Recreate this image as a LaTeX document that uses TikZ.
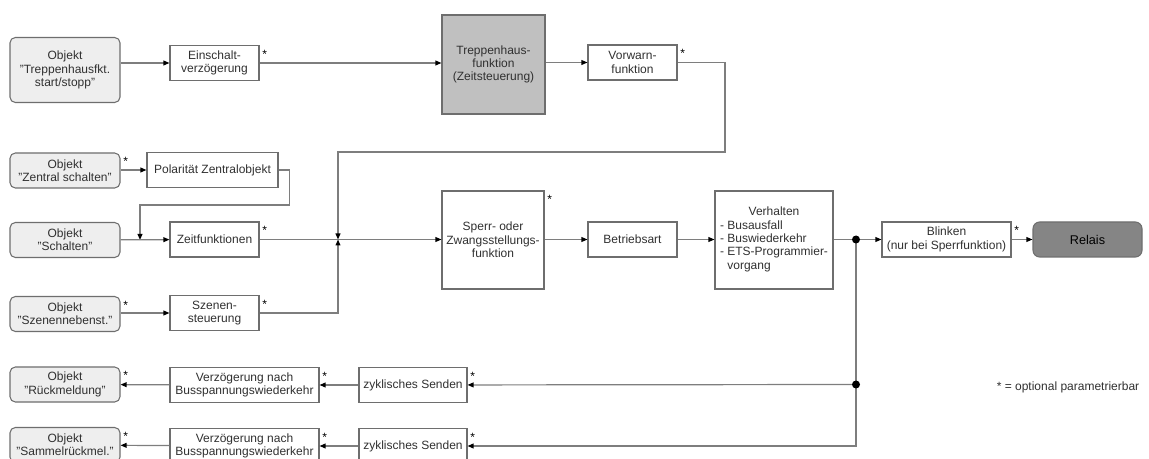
\documentclass[tikz,border=0pt]{standalone}
\usepackage{fontspec}
\setmainfont{Liberation Sans}
\usepackage{tikz}
\usetikzlibrary{arrows.meta, calc}
\definecolor{LineGrey}{HTML}{7E7E7E}
\definecolor{BoxGrey}{HTML}{6E6E6E}
\definecolor{ObjFill}{HTML}{EEEEEE}
\definecolor{FuncFill}{HTML}{C0C0C0}
\definecolor{RelaisFill}{HTML}{858585}
\definecolor{TextGrey}{HTML}{303030}

\begin{document}
\begin{tikzpicture}[x=0.75pt, y=-0.75pt,
  font=\fontsize{9}{10}\selectfont, text=TextGrey,
  box/.style={draw=BoxGrey, line width=0.8pt, align=center, inner sep=2pt,
    minimum width=66.75pt, minimum height=26.25pt},
  obj/.style={box, fill=ObjFill, rounded corners=4pt, minimum width=82.5pt},
  optmark/.style={label={[anchor=north west, inner sep=1pt, xshift=1pt, yshift=-2.5pt, text=black]north east:*}},
  conn/.style={draw=LineGrey, line width=0.9pt},
  arr/.style={conn, -{Triangle[length=4.5pt, width=3.6pt, color=black]}}]
\useasboundingbox (0,0) rectangle (1149,459);
\clip (0,0) rectangle (1149,459);

% --- objects ---
\node[obj, minimum height=48.75pt] (trobj) at (65,70) {Objekt\\"Treppenhausfkt.\\start/stopp"};
\node[obj, optmark] (zentral) at (65,170.5) {Objekt\\"Zentral schalten"};
\node[obj] (schalten) at (65,240) {Objekt\\"Schalten"};
\node[obj, optmark] (szobj) at (65,314) {Objekt\\"Szenennebenst."};
\node[obj, optmark] (rueck) at (65,384.5) {Objekt\\"Rückmeldung"};
\node[obj, optmark] (sammel) at (65,445) {Objekt\\"Sammelrückmel."};

% --- function blocks ---
\node[box, optmark] (einsch) at (214.5,63) {Einschalt-\\verzögerung};
\node[box, fill=FuncFill, minimum width=77.25pt, minimum height=74.25pt] (trfunc) at (493.5,64.5) {Treppenhaus-\\funktion\\(Zeitsteuerung)};
\node[box, optmark] (vorwarn) at (632.5,62.5) {Vorwarn-\\funktion};
\node[box, minimum width=98.25pt] (polar) at (212.5,170) {Polarität Zentralobjekt};
\node[box, optmark] (zeit) at (214.5,239.5) {Zeitfunktionen};
\node[box, optmark] (szenen) at (214.5,313) {Szenen-\\steuerung};
\node[box, optmark, minimum width=76.5pt, minimum height=73.5pt] (sperr) at (493,240) {Sperr- oder\\Zwangsstellungs-\\funktion};
\node[box] (betrieb) at (632.5,239.5) {Betriebsart};
\node[box, minimum width=88.5pt, minimum height=73.5pt] (verhalten) at (774,240)
  {\begin{tabular}{@{}l@{}}\multicolumn{1}{@{}c@{}}{Verhalten}\\- Busausfall\\- Buswiederkehr\\- ETS-Programmier-\\\phantom{- }vorgang\end{tabular}};
\node[box, optmark, minimum width=96.75pt] (blinken) at (946.5,239.5) {Blinken\\(nur bei Sperrfunktion)};
\node[obj, fill=RelaisFill, text=black, font=\fontsize{9.5}{10}\selectfont, rounded corners=5pt, minimum width=81.75pt] (relais) at (1087.5,239.5) {Relais};

% --- feedback ---
\node[box, optmark, minimum width=111.75pt] (verz1) at (244.5,385) {Verzögerung nach\\Busspannungswiederkehr};
\node[box, optmark, minimum width=81pt] (zykl1) at (413,385) {zyklisches Senden};
\node[box, optmark, minimum width=111.75pt] (verz2) at (244.5,446) {Verzögerung nach\\Busspannungswiederkehr};
\node[box, optmark, minimum width=81pt] (zykl2) at (413,446) {zyklisches Senden};

\node (note) at (1068,387) {* = optional parametrierbar};

\coordinate (jn) at (338,239.5);
\coordinate (fb) at (725,152);
\coordinate (pk) at (140,205);
\coordinate (d1) at (856,239.5);
\coordinate (d2) at (856,384.5);

% --- connectors ---
\draw[arr] (trobj.east |- einsch) -- (einsch);
\draw[arr] (einsch) -- (trfunc.west |- einsch);
\draw[arr] (trfunc.east |- vorwarn) -- (vorwarn);
\draw[arr] (vorwarn) -| (fb) -| (jn);
\draw[arr] (zentral.east |- polar) -- (polar);
\draw[arr] (polar.east) -- ++(11,0) |- (pk) -- (pk |- schalten);
\draw[arr] (schalten) -- (zeit);
\draw[arr] (zeit) -- (sperr.west |- zeit);
\draw[arr] (szobj.east |- szenen) -- (szenen);
\draw[arr] (szenen) -| (jn);
\draw[arr] (sperr.east |- betrieb) -- (betrieb);
\draw[arr] (betrieb) -- (verhalten.west |- betrieb);
\draw[arr] (verhalten.east |- blinken) -- (blinken);
\draw[arr] (blinken) -- (relais);
\draw[conn] (d1) -- (d2);
\draw[arr] (d2) -- (zykl1);
\draw[arr] (d2) |- (zykl2);
\draw[arr] (zykl1) -- (verz1);
\draw[arr] (verz1) -- (rueck);
\draw[arr] (zykl2) -- (verz2);
\draw[arr] (verz2) -- (sammel);
\fill (d1) circle (3pt);
\fill (d2) circle (3pt);
\end{tikzpicture}
\end{document}
